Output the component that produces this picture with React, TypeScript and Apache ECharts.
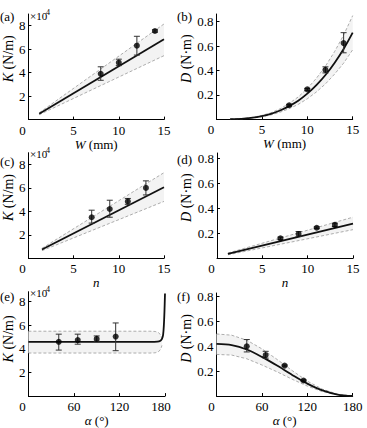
import React, { useEffect, useRef } from 'react';
import * as echarts from 'echarts';

// ---------- data ----------
// (a) K vs W
const aW = [8, 10, 12, 14];
const aK = [3.9, 4.85, 6.3, 7.55];
const aKLo = [3.35, 4.6, 5.5, 7.45];
const aKHi = [4.5, 5.15, 7.1, 7.65];
const aFitW = [1.2, 15];
const aFitK = [0.5, 6.85];
const aBandHi = [0.58, 8.15];
const aBandLo = [0.42, 5.45];

// (b) D vs W
const bW = [8, 10, 12, 14];
const bD = [0.115, 0.245, 0.405, 0.625];
const bDLo = [0.108, 0.237, 0.38, 0.545];
const bDHi = [0.122, 0.253, 0.43, 0.71];
const bFitW = [1.5, 3, 4, 5, 6, 7, 8, 9, 10, 11, 12, 13, 14, 15];
const bFitD = [0.001, 0.006, 0.013, 0.027, 0.045, 0.072, 0.108, 0.152, 0.21, 0.28, 0.363, 0.462, 0.576, 0.71];
const bBandHi = [0.001, 0.007, 0.016, 0.032, 0.054, 0.086, 0.13, 0.183, 0.252, 0.336, 0.436, 0.554, 0.69, 0.85];
const bBandLo = [0.001, 0.005, 0.011, 0.021, 0.036, 0.058, 0.087, 0.122, 0.168, 0.224, 0.29, 0.37, 0.46, 0.57];

// (c) K vs n
const cN = [7, 9, 11, 13];
const cK = [3.5, 4.2, 4.85, 6.0];
const cKLo = [3.0, 3.5, 4.6, 5.4];
const cKHi = [4.1, 4.95, 5.1, 6.6];
const cFitN = [1.5, 15];
const cFitK = [0.75, 6.05];
const cBandHi = [0.85, 7.3];
const cBandLo = [0.65, 4.85];

// (d) D vs n
const dN = [7, 9, 11, 13];
const dD = [0.16, 0.195, 0.245, 0.268];
const dDLo = [0.15, 0.175, 0.238, 0.255];
const dDHi = [0.17, 0.215, 0.252, 0.282];
const dFitN = [1.2, 15];
const dFitD = [0.035, 0.278];
const dBandHi = [0.042, 0.33];
const dBandLo = [0.028, 0.23];

// (e) K vs alpha
const eA = [40, 65, 90, 115];
const eK = [4.6, 4.75, 4.85, 5.05];
const eKLo = [3.9, 4.4, 4.65, 3.85];
const eKHi = [5.25, 5.25, 5.1, 6.2];
const eFitA = [0, 40, 80, 120, 160, 170, 174, 176, 177.5, 178.5, 179.3, 180];
const eFitK = [4.6, 4.6, 4.6, 4.6, 4.6, 4.62, 4.7, 4.85, 5.2, 6.0, 7.2, 8.7];
const eBandA = [0, 40, 80, 120, 160, 167, 171, 173.5, 175, 176];
const eBandHi = [5.5, 5.5, 5.5, 5.5, 5.5, 5.48, 5.4, 5.25, 5.08, 4.9];
const eBandLo = [3.65, 3.65, 3.65, 3.65, 3.65, 3.67, 3.75, 3.9, 4.1, 4.3];

// (f) D vs alpha
const fA = [40, 65, 90, 115];
const fD = [0.4, 0.33, 0.245, 0.125];
const fDLo = [0.355, 0.305, 0.24, 0.12];
const fDHi = [0.455, 0.36, 0.25, 0.13];
const fFitA = [0, 20, 40, 60, 80, 100, 120, 140, 160, 180];
const fFitD = [0.42, 0.41, 0.375, 0.315, 0.245, 0.17, 0.1, 0.045, 0.012, 0];
const fBandHi = [0.5, 0.49, 0.45, 0.38, 0.295, 0.205, 0.12, 0.055, 0.015, 0];
const fBandLo = [0.335, 0.33, 0.3, 0.25, 0.195, 0.135, 0.08, 0.035, 0.01, 0];

const xTicksLen = [0, 5, 10, 15];
const xTicksAng = [0, 60, 120, 180];
const yTicksK = [2, 4, 6, 8];
const yTicksD = [0.2, 0.4, 0.6, 0.8];

const FONT = '"Liberation Serif", "Times New Roman", Times, serif';

type Panel = {
  letter: string;
  grid: { left: number; top: number; width: number; height: number };
  xMax: number;
  xTicks: number[];
  yMax: number;
  yTicks: number[];
  xName: string;
  yName: string;
  yNameGap: number;
  yNameShift: number;
  zeroPad: number;
  endPad: number;
  isK: boolean;
  fitX: number[];
  fitY: number[];
  bandX: number[];
  bandHi: number[];
  bandLo: number[];
  px: number[];
  py: number[];
  pLo: number[];
  pHi: number[];
  letterPos: [number, number];
};

const panels: Panel[] = [
  {
    letter: '(a)', grid: { left: 28, top: 14, width: 136, height: 105.6 },
    xMax: 15, xTicks: xTicksLen, yMax: 9, yTicks: yTicksK,
    xName: '{i|W} (mm)', yName: '{i|K} (N/m)', yNameGap: 13, yNameShift: 16, zeroPad: 12, endPad: 0, isK: true,
    fitX: aFitW, fitY: aFitK, bandX: aFitW, bandHi: aBandHi, bandLo: aBandLo,
    px: aW, py: aK, pLo: aKLo, pHi: aKHi, letterPos: [0, 10],
  },
  {
    letter: '(b)', grid: { left: 216.5, top: 14, width: 136.2, height: 105.3 },
    xMax: 15, xTicks: xTicksLen, yMax: 0.863, yTicks: yTicksD,
    xName: '{i|W} (mm)', yName: '{i|D} (N·m)', yNameGap: 20, yNameShift: 16, zeroPad: 11, endPad: 0, isK: false,
    fitX: bFitW, fitY: bFitD, bandX: bFitW, bandHi: bBandHi, bandLo: bBandLo,
    px: bW, py: bD, pLo: bDLo, pHi: bDHi, letterPos: [177, 10],
  },
  {
    letter: '(c)', grid: { left: 28, top: 152.7, width: 136, height: 105.6 },
    xMax: 15, xTicks: xTicksLen, yMax: 9, yTicks: yTicksK,
    xName: '{i|n}', yName: '{i|K} (N/m)', yNameGap: 13, yNameShift: 16, zeroPad: 12, endPad: 0, isK: true,
    fitX: cFitN, fitY: cFitK, bandX: cFitN, bandHi: cBandHi, bandLo: cBandLo,
    px: cN, py: cK, pLo: cKLo, pHi: cKHi, letterPos: [0, 155],
  },
  {
    letter: '(d)', grid: { left: 217, top: 153, width: 136, height: 105.3 },
    xMax: 15, xTicks: xTicksLen, yMax: 0.845, yTicks: yTicksD,
    xName: '{i|n}', yName: '{i|D} (N·m)', yNameGap: 20, yNameShift: 16, zeroPad: 11, endPad: 0, isK: false,
    fitX: dFitN, fitY: dFitD, bandX: dFitN, bandHi: dBandHi, bandLo: dBandLo,
    px: dN, py: dD, pLo: dDLo, pHi: dDHi, letterPos: [177, 153],
  },
  {
    letter: '(e)', grid: { left: 28, top: 291.7, width: 137, height: 105.3 },
    xMax: 180, xTicks: xTicksAng, yMax: 8.85, yTicks: yTicksK,
    xName: '{i|α} (°)', yName: '{i|K} (N/m)', yNameGap: 13, yNameShift: 10, zeroPad: 12, endPad: 8, isK: true,
    fitX: eFitA, fitY: eFitK, bandX: eBandA, bandHi: eBandHi, bandLo: eBandLo,
    px: eA, py: eK, pLo: eKLo, pHi: eKHi, letterPos: [0, 290],
  },
  {
    letter: '(f)', grid: { left: 216.5, top: 293, width: 136.2, height: 103 },
    xMax: 180, xTicks: xTicksAng, yMax: 0.83, yTicks: yTicksD,
    xName: '{i|α} (°)', yName: '{i|D} (N·m)', yNameGap: 20, yNameShift: 12, zeroPad: 10, endPad: 0, isK: false,
    fitX: fFitA, fitY: fFitD, bandX: fFitA, bandHi: fBandHi, bandLo: fBandLo,
    px: fA, py: fD, pLo: fDLo, pHi: fDHi, letterPos: [177, 290],
  },
];

export default function App() {
  const ref = useRef<HTMLDivElement>(null);
  useEffect(() => {
    const chart = echarts.init(ref.current as HTMLDivElement, null, { renderer: 'svg' });
    const grids: any[] = [];
    const xAxes: any[] = [];
    const yAxes: any[] = [];
    const series: any[] = [];
    const graphics: any[] = [];
    const axisCommon = {
      axisLine: { lineStyle: { color: '#000', width: 1 } },
      splitLine: { show: false },
    };
    const richItalic = (size: number) => ({ i: { fontStyle: 'italic', fontFamily: FONT, fontSize: size, color: '#000' } });
    const labelRich = (pad: number) => ({ fontFamily: FONT, fontSize: 13, color: '#000', padding: [0, pad, 0, 0] });

    panels.forEach((p, i) => {
      const xEnd = p.xTicks[p.xTicks.length - 1];
      grids.push({ ...p.grid, containLabel: false });
      xAxes.push({
        ...axisCommon,
        type: 'value', gridIndex: i, min: 0, max: p.xMax,
        axisTick: { inside: true, length: 3, customValues: p.xTicks, lineStyle: { color: '#000' } },
        axisLabel: {
          customValues: p.xTicks, margin: 4, fontFamily: FONT, fontSize: 13, color: '#000',
          formatter: (v: number) => (v === 0 ? '{z|0}' : v === xEnd ? `{e|${v}}` : String(v)),
          rich: { z: labelRich(p.zeroPad), e: labelRich(p.endPad) },
        },
        name: p.xName, nameLocation: 'middle', nameGap: 16,
        nameTextStyle: { fontFamily: FONT, fontSize: 13, color: '#000', rich: richItalic(13) },
      });
      yAxes.push({
        ...axisCommon,
        type: 'value', gridIndex: i, min: 0, max: p.yMax,
        axisTick: { inside: true, length: 3, customValues: p.yTicks, lineStyle: { color: '#000' } },
        axisLabel: {
          customValues: p.yTicks, margin: 3, fontFamily: FONT, fontSize: 13, color: '#000',
          formatter: (v: number) => String(Math.round(v * 10) / 10),
        },
        name: p.yName, nameLocation: 'middle', nameGap: p.yNameGap, nameRotate: 90,
        nameTextStyle: {
          fontFamily: FONT, fontSize: 14, color: '#000', rich: richItalic(14),
          padding: [0, 0, 0, p.yNameShift],
        },
      });
      // confidence band: filled polygon between dashed upper and lower bounds
      series.push({
        type: 'custom', xAxisIndex: i, yAxisIndex: i, z: 1, silent: true,
        data: [[p.bandX[0], p.bandLo[0]]],
        encode: { x: 0, y: 1 },
        renderItem: (_params: any, api: any) => {
          const hi = p.bandX.map((x, j) => api.coord([x, p.bandHi[j]]));
          const lo = p.bandX.map((x, j) => api.coord([x, p.bandLo[j]]));
          const dash = { stroke: '#999', lineWidth: 0.8, lineDash: [3, 2], fill: null };
          return {
            type: 'group',
            children: [
              { type: 'polygon', shape: { points: hi.concat(lo.slice().reverse()) }, style: { fill: '#f3f3f3', stroke: null } },
              { type: 'polyline', shape: { points: hi }, style: dash },
              { type: 'polyline', shape: { points: lo }, style: dash },
            ],
          };
        },
      });
      series.push({
        type: 'line', xAxisIndex: i, yAxisIndex: i, symbol: 'none', smooth: 0.3,
        data: p.fitX.map((x, j) => [x, p.fitY[j]]), lineStyle: { color: '#111', width: 1.8 }, z: 3,
      });
      series.push({
        type: 'custom', xAxisIndex: i, yAxisIndex: i, z: 4,
        data: p.px.map((x, j) => [x, p.py[j], p.pLo[j], p.pHi[j]]),
        encode: { x: 0, y: [1, 2, 3] },
        renderItem: (_params: any, api: any) => {
          const x = api.value(0);
          const lo = api.coord([x, api.value(2)]);
          const hi = api.coord([x, api.value(3)]);
          const w = 3;
          const st = { stroke: '#333', lineWidth: 1 };
          return {
            type: 'group',
            children: [
              { type: 'line', shape: { x1: lo[0], y1: lo[1], x2: hi[0], y2: hi[1] }, style: st },
              { type: 'line', shape: { x1: lo[0] - w, y1: lo[1], x2: lo[0] + w, y2: lo[1] }, style: st },
              { type: 'line', shape: { x1: hi[0] - w, y1: hi[1], x2: hi[0] + w, y2: hi[1] }, style: st },
            ],
          };
        },
      });
      series.push({
        type: 'scatter', xAxisIndex: i, yAxisIndex: i, symbol: 'circle', symbolSize: 6, z: 5,
        itemStyle: { color: '#000' },
        data: p.px.map((x, j) => [x, p.py[j]]),
      });
      graphics.push({
        type: 'text', left: p.letterPos[0], top: p.letterPos[1],
        style: { text: p.letter, font: `13px ${FONT}`, fill: '#000' },
      });
      if (p.isK) {
        graphics.push({
          type: 'text', left: p.grid.left + 2, top: p.grid.top - 4,
          style: { text: '×10', font: `11px ${FONT}`, fill: '#000' },
        });
        graphics.push({
          type: 'text', left: p.grid.left + 18, top: p.grid.top - 6,
          style: { text: '4', font: `8px ${FONT}`, fill: '#000' },
        });
      }
    });

    chart.setOption({
      animation: false,
      backgroundColor: '#fff',
      grid: grids,
      xAxis: xAxes,
      yAxis: yAxes,
      series,
      graphic: graphics,
    });
    return () => chart.dispose();
  }, []);
  return (
    <div
      ref={ref}
      style={{ position: 'fixed', left: 0, top: 0, width: 367, height: 428, background: '#fff' }}
    />
  );
}
